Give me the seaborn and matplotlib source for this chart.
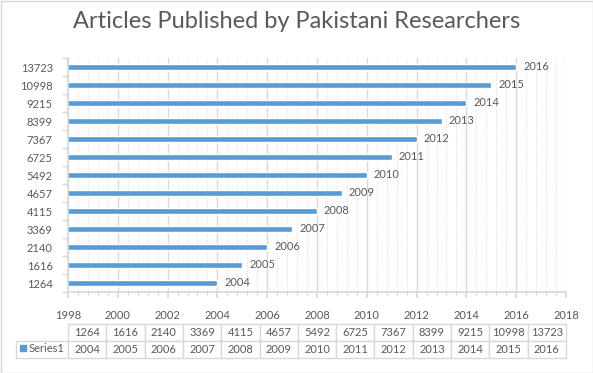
import matplotlib
matplotlib.use('Agg')
import matplotlib.pyplot as plt
import seaborn as sns
import pandas as pd
from matplotlib.ticker import MultipleLocator, FixedLocator
from matplotlib.patches import Rectangle

# data
years = [2004, 2005, 2006, 2007, 2008, 2009, 2010, 2011, 2012, 2013, 2014, 2015, 2016]
articles = [1264, 1616, 2140, 3369, 4115, 4657, 5492, 6725, 7367, 8399, 9215, 10998, 13723]
series_name = 'Series1'
title = 'Articles Published by Pakistani Researchers'

sns.set_theme(style='white')
plt.rcParams['font.family'] = ['Lato', 'DejaVu Sans']

txt = '#595959'
grid = '#d9d9d9'
blue = '#5b9bd5'
W, H = 593, 373
fs = 8

df = pd.DataFrame({'Year': years, 'Articles': [str(a) for a in articles]})
order = [str(a) for a in articles[::-1]]

fig = plt.figure(figsize=(W / 100, H / 100), dpi=100)
ax = fig.add_axes([68 / W, 1 - 292 / H, 498 / W, 234 / H])

sns.barplot(data=df, x='Year', y='Articles', order=order, orient='h',
            color=blue, saturation=1, width=0.3, ax=ax)
ax.bar_label(ax.containers[0], fmt='%d', padding=5, fontsize=fs, color=txt)

ax.set_xlim(1998, 2018)
ax.xaxis.set_major_locator(MultipleLocator(2))
ax.xaxis.set_minor_locator(MultipleLocator(0.4))
ax.grid(axis='x', which='major', color=grid, lw=1)
ax.grid(axis='x', which='minor', color=grid, lw=0.7, ls=':')
ax.set_axisbelow(True)
ax.set_xlabel('')
ax.set_ylabel('')

# category boundary ticks on the y axis
ax.yaxis.set_minor_locator(FixedLocator([i - 0.5 for i in range(len(years) + 1)]))
ax.tick_params(axis='y', which='major', length=0, pad=11, labelsize=fs, labelcolor=txt)
ax.tick_params(axis='y', which='minor', length=4, color=grid, left=True)
ax.tick_params(axis='x', which='major', length=4, color=grid, bottom=True, pad=9,
               labelsize=fs, labelcolor=txt)
ax.tick_params(axis='x', which='minor', length=2, color=grid, bottom=True)

for s in ['top', 'right']:
    ax.spines[s].set_visible(False)
for s in ['left', 'bottom']:
    ax.spines[s].set_color(grid)

# data table below the axis
label_w = 52 / 498
cell_text = [[''] + [str(a) for a in articles], [''] + [str(y) for y in years]]
widths = [label_w] + [1 / 13] * 13
tbl = ax.table(cellText=cell_text, colWidths=widths, cellLoc='center',
               bbox=[-label_w, -(358 - 292) / 234, 1 + label_w, (358 - 324) / 234])
tbl.auto_set_font_size(False)
tbl.set_fontsize(fs)
for (r, c), cell in tbl.get_celld().items():
    cell.set_edgecolor(grid)
    cell.set_linewidth(1)
    cell.get_text().set_color(txt)
tbl[0, 0].visible_edges = ''

fig.patches.append(Rectangle((20 / W, 1 - 351 / H), 6 / W, 6 / H, transform=fig.transFigure,
                             color=blue))
fig.text(29 / W, 1 - 348 / H, series_name, fontsize=fs, color=txt, ha='left', va='center')

fig.text(0.5, 1 - 22 / H, title, ha='center', va='center', fontsize=17, color=txt)
fig.patches.append(Rectangle((0.5 / W, 0.5 / H), 1 - 1 / W, 1 - 1 / H, transform=fig.transFigure,
                             fill=False, ec=grid, lw=1))

fig.savefig('out.png', dpi=100)
